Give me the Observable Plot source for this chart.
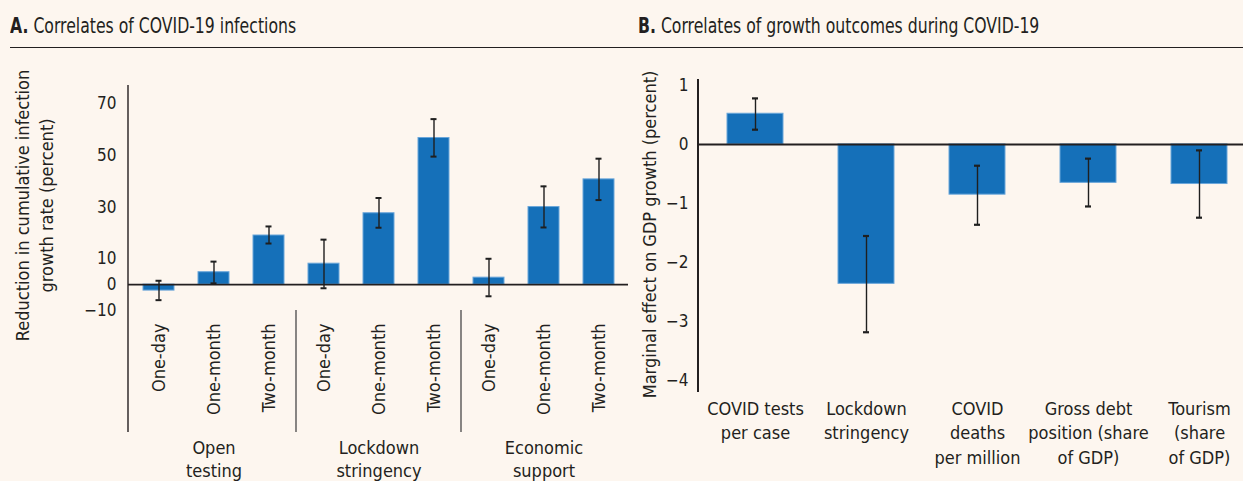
<!DOCTYPE html>
<html><head><meta charset="utf-8">
<script src="https://cdn.jsdelivr.net/npm/d3@7"></script>
<script src="https://cdn.jsdelivr.net/npm/@observablehq/plot@0.6"></script>
<style>
html,body{margin:0;padding:0;background:#fdf6ef;overflow:hidden;}
#wrap{position:relative;width:1243px;height:481px;overflow:hidden;background:#fdf6ef;color:#231f20;}
.title{position:absolute;top:16px;font-size:21px;line-height:1;white-space:nowrap;transform:scaleX(0.83);transform-origin:0 0;}
.rule{position:absolute;left:10px;right:0;top:47px;height:0;border-top:1.6px solid #231f20;}
#A{position:absolute;left:0;top:0;width:640px;height:481px;}
#B{position:absolute;left:620px;top:0;width:636px;height:481px;}
</style></head><body>
<div id="wrap">
  <div class="title" style="left:10px"><b>A.</b> Correlates of COVID-19 infections</div>
  <div class="title" style="left:638px"><b>B.</b> Correlates of growth outcomes during COVID-19</div>
  <div class="rule"></div>
  <div id="A"></div>
  <div id="B"></div>
</div>
<script>
// ---------- Data: panel A ----------
const groupsA = ["Open testing", "Lockdown stringency", "Economic support"];
const groupLabelsA = ["Open\ntesting", "Lockdown\nstringency", "Economic\nsupport"];
const horizonsA = ["One-day", "One-month", "Two-month"];
const valuesA = [-2.3, 4.8, 19.0, 8.1, 27.6, 56.7, 2.7, 30.0, 40.7];
const lowA    = [-6.0, 0.5, 15.9, -1.4, 22.0, 49.5, -4.5, 22.1, 32.7];
const highA   = [1.5, 8.9, 22.5, 17.4, 33.5, 64.0, 10.0, 38.0, 48.7];
const ticksA  = [70, 50, 30, 10, 0, -10];
const yLabelA = "Reduction in cumulative infection\ngrowth rate (percent)";

// ---------- Data: panel B ----------
const categoriesB = ["COVID tests\nper case", "Lockdown\nstringency", "COVID\ndeaths\nper million", "Gross debt\nposition (share\nof GDP)", "Tourism\n(share\nof GDP)"];
const valuesB = [0.52, -2.36, -0.85, -0.65, -0.67];
const lowB    = [0.25, -3.18, -1.36, -1.05, -1.24];
const highB   = [0.78, -1.55, -0.36, -0.24, -0.10];
const ticksB  = [1, 0, -1, -2, -3, -4];
const yLabelB = "Marginal effect on GDP growth (percent)";

// ---------- font pick ----------
function available(f) {
  const c = document.createElement("canvas").getContext("2d");
  const s = "COVID tests per case Reduction 0123456789";
  c.font = "40px monospace"; const a = c.measureText(s).width;
  c.font = `40px "${f}", monospace`; const b = c.measureText(s).width;
  c.font = "40px serif"; const a2 = c.measureText(s).width;
  c.font = `40px "${f}", serif`; const b2 = c.measureText(s).width;
  return a !== b || a2 !== b2;
}
const candidates = ["Liberation Sans Narrow", "DejaVu Sans Condensed", "Roboto Condensed", "Roboto"];
const FONT_NAME = candidates.find(available) || "Roboto";
const FONT = `"${FONT_NAME}", Roboto, sans-serif`;
document.querySelectorAll(".title").forEach(e => e.style.fontFamily = FONT);

const INK = "#231f20";
const BAR = "#1570b9";
const BAR_EDGE = "#6aa6da";
const ERR = "#1f1f1f";
const fmtInt = d3.format("d");

// ---------- Panel A ----------
const dataA = valuesA.map((v, i) => ({
  key: groupsA[Math.floor(i / 3)] + "|" + horizonsA[i % 3],
  value: v, low: lowA[i], high: highA[i]
}));
const groupDataA = groupsA.map((g, i) => ({key: g + "|" + horizonsA[1], label: groupLabelsA[i]}));

const mA = {left: 128, right: 12, top: 85, bottom: 171};
const HA = 481, WA = 640;
const plotA = Plot.plot({
  width: WA, height: HA,
  marginLeft: mA.left, marginRight: mA.right, marginTop: mA.top, marginBottom: mA.bottom,
  style: {background: "transparent", fontFamily: FONT, color: INK, maxWidth: "none", overflow: "visible"},
  x: {domain: dataA.map(d => d.key), paddingInner: 0.44, paddingOuter: 0.22, axis: null},
  y: {domain: [-10, 77], axis: null},
  marks: [
    Plot.barY(dataA, {x: "key", y: "value", fill: BAR, stroke: BAR_EDGE, strokeWidth: 1}),
    Plot.ruleY([0], {stroke: INK, strokeWidth: 1.6}),
    Plot.ruleX(dataA, {x: "key", y1: "low", y2: "high", stroke: ERR, strokeWidth: 1.4}),
    Plot.tickY(dataA, {x: "key", y: "low", stroke: ERR, strokeWidth: 2, inset: 12.5}),
    Plot.tickY(dataA, {x: "key", y: "high", stroke: ERR, strokeWidth: 2, inset: 12.5}),
    Plot.axisY(ticksA, {tickSize: 0, tickPadding: 12, fontSize: 17, fill: INK, label: null, tickFormat: fmtInt}),
    Plot.axisX({tickSize: 0, tickPadding: 13, tickRotate: -90, fontSize: 18, fill: INK, label: null,
      tickFormat: k => k.split("|")[1]}),
    Plot.text(groupDataA, {x: "key", text: "label", frameAnchor: "bottom", lineAnchor: "top",
      dy: 126, lineHeight: 1.33, fontSize: 18, fill: INK}),
    Plot.text([yLabelA], {text: d => d, frameAnchor: "left", rotate: -90, textAnchor: "middle",
      lineAnchor: "middle", lineHeight: 1.33, dx: -95, dy: 7.5, fontSize: 18, fill: INK})
  ]
});
document.getElementById("A").appendChild(plotA);
{
  const sx = plotA.scale("x");
  const keys = dataA.map(d => d.key);
  const step = sx.apply(keys[1]) - sx.apply(keys[0]);
  const bw = sx.bandwidth;
  const svg = d3.select(plotA);
  const bottom = HA - mA.bottom;
  svg.append("line").attr("x1", mA.left).attr("x2", mA.left)
    .attr("y1", mA.top).attr("y2", bottom + 122)
    .attr("stroke", INK).attr("stroke-width", 1.4);
  [3, 6].forEach(i => {
    const xb = sx.apply(keys[i]) - (step - bw) / 2;
    svg.append("line").attr("x1", xb).attr("x2", xb)
      .attr("y1", bottom).attr("y2", bottom + 122)
      .attr("stroke", "#555").attr("stroke-width", 1.4);
  });
}

// ---------- Panel B ----------
const dataB = valuesB.map((v, i) => ({cat: categoriesB[i], value: v, low: lowB[i], high: highB[i]}));
const mB = {left: 78, right: 0, top: 79, bottom: 89};
const HB = 481, WB = 636;
const plotB = Plot.plot({
  width: WB, height: HB,
  marginLeft: mB.left, marginRight: mB.right, marginTop: mB.top, marginBottom: mB.bottom,
  style: {background: "transparent", fontFamily: FONT, color: INK, maxWidth: "none", overflow: "visible"},
  x: {domain: categoriesB, paddingInner: 0.5, paddingOuter: 0.25, axis: null},
  y: {domain: [-4.2, 1.1], axis: null},
  marks: [
    Plot.barY(dataB, {x: "cat", y: "value", fill: BAR, stroke: BAR_EDGE, strokeWidth: 1}),
    Plot.ruleY([0], {stroke: INK, strokeWidth: 2}),
    Plot.ruleX(dataB, {x: "cat", y1: "low", y2: "high", stroke: ERR, strokeWidth: 1.4}),
    Plot.tickY(dataB, {x: "cat", y: "low", stroke: ERR, strokeWidth: 2.2, inset: 25}),
    Plot.tickY(dataB, {x: "cat", y: "high", stroke: ERR, strokeWidth: 2.2, inset: 25}),
    Plot.axisY(ticksB, {tickSize: 0, tickPadding: 10, fontSize: 17, fill: INK, label: null, tickFormat: fmtInt}),
    Plot.text(categoriesB, {x: d => d, text: d => d, frameAnchor: "bottom", lineAnchor: "top",
      dy: 5, lineHeight: 1.36, fontSize: 18, fill: INK}),
    Plot.text([yLabelB], {text: d => d, frameAnchor: "left", rotate: -90, textAnchor: "middle",
      lineAnchor: "middle", dx: -48, dy: -1.5, fontSize: 18, fill: INK})
  ]
});
document.getElementById("B").appendChild(plotB);
d3.select(plotB).append("line")
  .attr("x1", mB.left).attr("x2", mB.left)
  .attr("y1", mB.top).attr("y2", HB - mB.bottom)
  .attr("stroke", INK).attr("stroke-width", 2);
</script>
</body></html>
